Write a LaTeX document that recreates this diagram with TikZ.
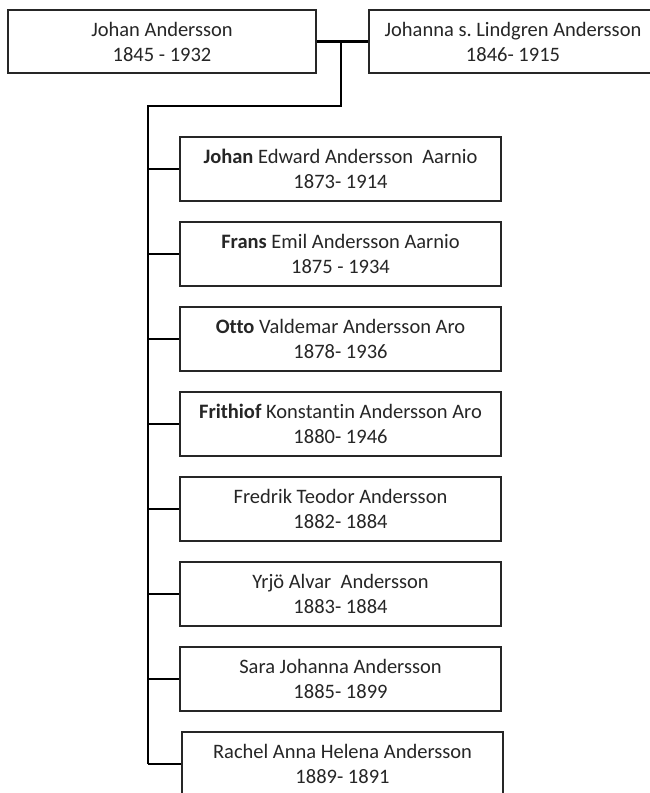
\documentclass[tikz,border=0pt]{standalone}
\usepackage{fontspec}
\setmainfont{Carlito}[Ligatures=NoCommon]
\usetikzlibrary{calc}

\begin{document}
\begin{tikzpicture}[
	x=1pt, y=-1pt,
	person/.style={
		rectangle,
		draw=black!85,
		line width=1.6pt,
		align=center,
		inner sep=0pt,
		minimum height=63pt,
		text=black!85,
		font=\fontsize{20.5}{25}\selectfont
	},
	childbox/.style={person, minimum width=321pt, minimum height=64pt},
	linkline/.style={black, line width=2.6pt},
]

\useasboundingbox[fill=white] (0,0) rectangle (650,793);

\pgfmathsetmacro{\dy}{85}

% parents
\node[person, minimum width=308pt] (father) at (162,41.5) {Johan Andersson\\1845 - 1932};
\node[person, minimum width=288pt] (mother) at (513,41.5) {Johanna s.\ Lindgren Andersson\\1846- 1915};

% children
\foreach \i/\name/\years in {
	1/{\textbf{Johan} Edward Andersson\ \ Aarnio}/1873- 1914,
	2/{\textbf{Frans} Emil Andersson Aarnio}/1875 - 1934,
	3/{\textbf{Otto} Valdemar Andersson Aro}/1878- 1936,
	4/{\textbf{Frithiof} Konstantin Andersson Aro}/1880- 1946,
	5/{Fredrik Teodor Andersson}/1882- 1884,
	6/{Yrjö Alvar\ \ Andersson}/1883- 1884,
	7/{Sara Johanna Andersson}/1885- 1899,
	8/{Rachel Anna Helena Andersson}/1889- 1891} {
	\ifnum\i=3 \def\bw{2.6pt}\else\def\bw{1.6pt}\fi
	\ifnum\i=8 \def\sx{2}\else\def\sx{0}\fi
	\node[childbox, line width=\bw] (c\i) at ({340.5+\sx}, {169+(\i-1)*\dy}) {\name\\\years};
}

% connectors
\coordinate (drop) at (341,41.5);
\coordinate (elbow) at (341,106);
\coordinate (trunktop) at (148,106);
\draw[linkline] (father.east) -- (mother.west);
\draw[linkline] (drop) -- (elbow) -- (trunktop) -- (trunktop |- c8.west);
\foreach \i in {1,...,8} {
	\draw[linkline] (trunktop |- c\i.west) -- (c\i.west);
}

\end{tikzpicture}
\end{document}
